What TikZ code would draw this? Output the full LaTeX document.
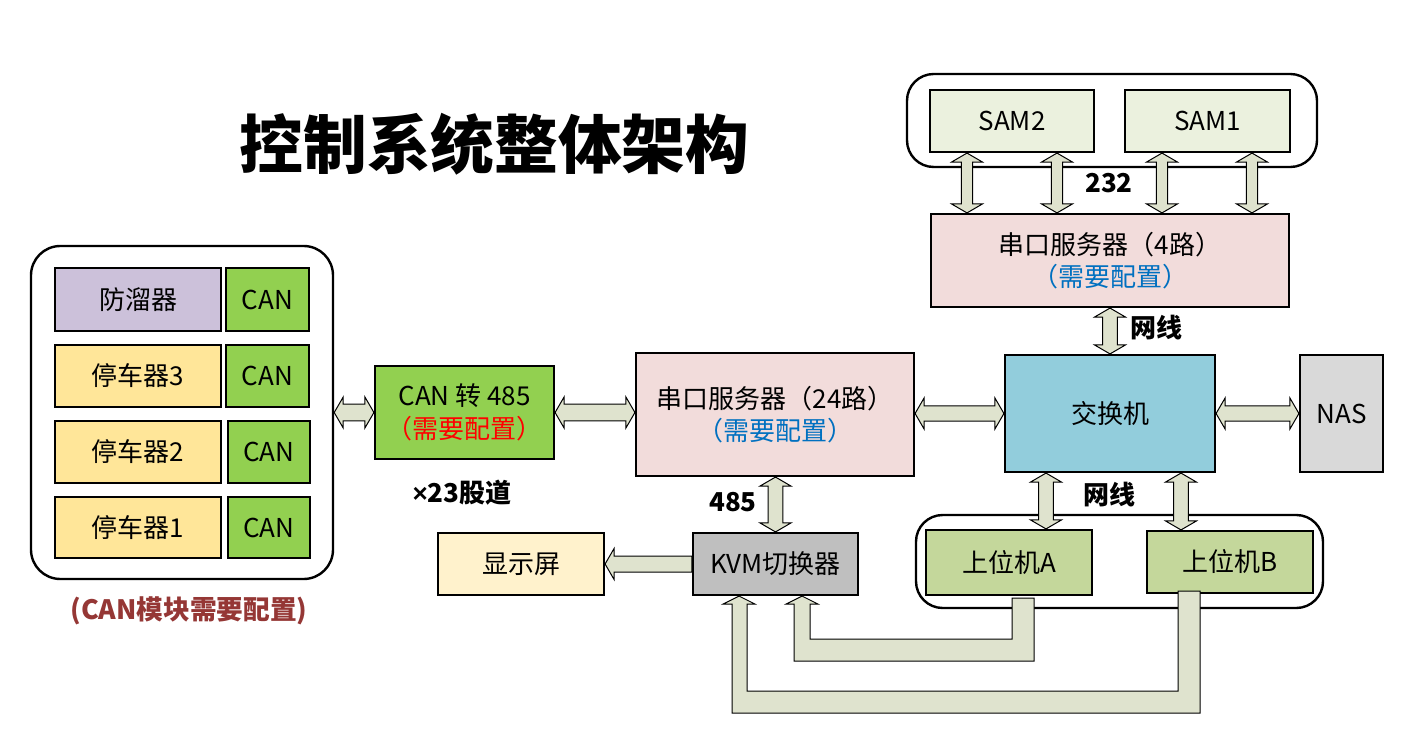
\documentclass[tikz,border=0pt]{standalone}
\usepackage{fontspec}
\setmainfont{Noto Sans CJK SC}
\newfontfamily\latf{Liberation Sans}
\usetikzlibrary{calc}
\definecolor{lav}{HTML}{CCC1DA}
\definecolor{cang}{HTML}{92D050}
\definecolor{yel}{HTML}{FFE699}
\definecolor{pinkb}{HTML}{F2DCDB}
\definecolor{cyanb}{HTML}{92CDDC}
\definecolor{grayb}{HTML}{D9D9D9}
\definecolor{samb}{HTML}{EBF1DE}
\definecolor{pcg}{HTML}{C4D79B}
\definecolor{kvmb}{HTML}{BFBFBF}
\definecolor{dispb}{HTML}{FFF2CC}
\definecolor{arrc}{HTML}{DFE3CE}
\definecolor{cblue}{HTML}{0070C0}
\definecolor{cred}{HTML}{FF0000}
\definecolor{dred}{HTML}{953735}
\newcommand\arrHL{6.75pt}
\newcommand\arrHH{11.6pt}
\newcommand\HD[3]{%
 \draw[arr] let \p1=(#1), \p2=(#2) in
 (\x1,\y1) -- ({\x1+\arrHL},{\y1+\arrHH}) -- ({\x1+\arrHL},{\y1+#3}) -- ({\x2-\arrHL},{\y2+#3}) -- ({\x2-\arrHL},{\y2+\arrHH}) -- (\x2,\y2) -- ({\x2-\arrHL},{\y2-\arrHH}) -- ({\x2-\arrHL},{\y2-#3}) -- ({\x1+\arrHL},{\y1-#3}) -- ({\x1+\arrHL},{\y1-\arrHH}) -- cycle;}
\newcommand\VD[3]{%
 \draw[arr] let \p1=(#1), \p2=(#2) in
 (\x1,\y1) -- ({\x1+\arrHH},{\y1-\arrHL}) -- ({\x1+#3},{\y1-\arrHL}) -- ({\x2+#3},{\y2+\arrHL}) -- ({\x2+\arrHH},{\y2+\arrHL}) -- (\x2,\y2) -- ({\x2-\arrHH},{\y2+\arrHL}) -- ({\x2-#3},{\y2+\arrHL}) -- ({\x1-#3},{\y1-\arrHL}) -- ({\x1-\arrHH},{\y1-\arrHL}) -- cycle;}
\newcommand\LA[3]{%
 \draw[arr] let \p1=(#1), \p2=(#2) in
 (\x1,\y1) -- ({\x1+\arrHL},{\y1+\arrHH}) -- ({\x1+\arrHL},{\y1+#3}) -- (\x2,{\y2+#3}) -- (\x2,{\y2-#3}) -- ({\x1+\arrHL},{\y1-#3}) -- ({\x1+\arrHL},{\y1-\arrHH}) -- cycle;}
\tikzset{
 box/.style={draw=black, line width=1.6pt, inner sep=0pt, align=center, font=\fontsize{19.5}{24.5}\selectfont},
 grp/.style={draw=black, line width=1.8pt, rounded corners=20pt, inner sep=0pt},
 sz/.style 2 args={minimum width=#1*0.75pt, minimum height=#2*0.75pt},
 arr/.style={draw=black, line width=0.75pt, fill=arrc, line join=miter},
 lbl/.style={font=\fontsize{19.5}{23}\selectfont\bfseries, inner sep=0pt},
}
\begin{document}
\begin{tikzpicture}[x=0.75pt, y=-0.75pt]
\useasboundingbox[fill=white] (0,0) rectangle (1414,745);
% title
\node[font=\fontsize{47.8}{54}\selectfont\bfseries, inner sep=0pt] (title) at (494.5,144) {控制系统整体架构};
% groups
\node[grp, sz={302}{333}, rounded corners=22pt] (grpL) at (182,412.5) {};
\node[grp, sz={410}{93}] (grpS) at (1112,120.5) {};
\node[grp, sz={407}{93}] (grpP) at (1119.5,561.5) {};
% left group boxes
\node[box, fill=lav, sz={166}{63}] (fl) at (138,299.5) {防溜器};
\node[box, fill=cang, sz={83}{63}] (can1) at (267.5,299.5) {CAN};
\node[box, fill=yel, sz={166}{62}] (tc3) at (138,376) {停车器3};
\node[box, fill=cang, sz={83}{62}] (can2) at (267.5,376) {CAN};
\node[box, fill=yel, sz={166}{62}] (tc2) at (138,452) {停车器2};
\node[box, fill=cang, sz={82}{62}] (can3) at (269,452) {CAN};
\node[box, fill=yel, sz={166}{61}] (tc1) at (138,527.5) {停车器1};
\node[box, fill=cang, sz={82}{61}] (can4) at (269,527.5) {CAN};
\node[font=\fontsize{20}{24}\selectfont\bfseries, text=dred, inner sep=0pt] (cap) at (189,611) {(CAN模块需要配置)};
% middle
\node[box, fill=cang, sz={179}{93}] (can485) at (464.5,412.5) {CAN 转 485\\\textcolor{cred}{（需要配置）}};
\node[lbl] (x23) at (462,493) {{\latf ×}23股道};
\node[box, fill=pinkb, sz={278}{123}] (ser24) at (775,414.5) {串口服务器（24路）\\\textcolor{cblue}{（需要配置）}};
\node[box, fill=cyanb, sz={210}{117}] (sw) at (1110,413.5) {交换机};
\node[box, fill=grayb, sz={83}{117}] (nas) at (1341.5,413.5) {NAS};
\node[box, fill=pinkb, sz={358}{93}] (ser4) at (1110,260.5) {串口服务器（4路）\\\textcolor{cblue}{（需要配置）}};
\node[box, fill=samb, sz={164}{62}] (sam2) at (1012,121) {SAM2};
\node[box, fill=samb, sz={165}{62}] (sam1) at (1207.5,121) {SAM1};
\node[lbl] (l232) at (1109,183) {232};
\node[lbl] (lwx1) at (1156,328) {网线};
\node[lbl] (lwx2) at (1109,495) {网线};
\node[box, fill=pcg, sz={166}{65}] (pcA) at (1009,562.5) {上位机A};
\node[box, fill=pcg, sz={166}{62}] (pcB) at (1230,562) {上位机B};
\node[box, fill=kvmb, sz={165}{62}] (kvm) at (775.5,564) {KVM切换器};
\node[box, fill=dispb, sz={166}{62}] (disp) at (521,564) {显示屏};
\node[lbl] (l485) at (733,502) {485};
% horizontal double arrows
\HD{grpL.east |- can485.west}{can485.west}{6.2pt}
\HD{can485.east}{ser24.west |- can485.east}{6.2pt}
\HD{ser24.east |- sw.west}{sw.west}{5.8pt}
\HD{sw.east}{nas.west}{5.8pt}
% vertical double arrows
\coordinate (s2a) at ($(sam2.south)+(-45,0)$);
\coordinate (s2b) at ($(sam2.south)+(45,0)$);
\coordinate (s1a) at ($(sam1.south)+(-45.5,0)$);
\coordinate (s1b) at ($(sam1.south)+(44.5,0)$);
\VD{s2a}{s2a |- ser4.north}{4.3pt}
\VD{s2b}{s2b |- ser4.north}{4.3pt}
\VD{s1a}{s1a |- ser4.north}{4.3pt}
\VD{s1b}{s1b |- ser4.north}{4.3pt}
\VD{ser4.south}{sw.north}{5.6pt}
\coordinate (swa) at ($(sw.south)+(-64,0)$);
\coordinate (swb) at ($(sw.south)+(71,0)$);
\VD{swa}{swa |- pcA.north}{5.6pt}
\VD{swb}{swb |- pcB.north}{5.6pt}
\VD{kvm.north |- ser24.south}{kvm.north}{5.6pt}
% single arrow to display
\LA{disp.east}{kvm.west}{6pt}
% bent arrows
\draw[arr] ($(pcA.south)+(3,2)$) -- ($(pcA.south)+(25,2)$) -- ($(pcA.south)+(25,65)$)
 -- ($(kvm.south)+(18.5,65)$) -- ($(kvm.south)+(18.5,8)$) -- ($(kvm.south)+(10.5,8)$)
 -- ($(kvm.south)+(26.5,0)$) -- ($(kvm.south)+(42.5,8)$) -- ($(kvm.south)+(34.5,8)$)
 -- ($(kvm.south)+(34.5,43)$) -- ($(pcA.south)+(3,43)$) -- cycle;
\draw[arr] ($(pcB.south)+(-52,-3)$) -- ($(pcB.south)+(-30,-3)$) -- ($(pcB.south)+(-30,119)$)
 -- ($(kvm.south)+(-43.5,117)$) -- ($(kvm.south)+(-43.5,8)$) -- ($(kvm.south)+(-52.5,8)$)
 -- ($(kvm.south)+(-36.5,0)$) -- ($(kvm.south)+(-20.5,8)$) -- ($(kvm.south)+(-28.5,8)$)
 -- ($(kvm.south)+(-28.5,95)$) -- ($(pcB.south)+(-52,97)$) -- cycle;
\end{tikzpicture}
\end{document}
